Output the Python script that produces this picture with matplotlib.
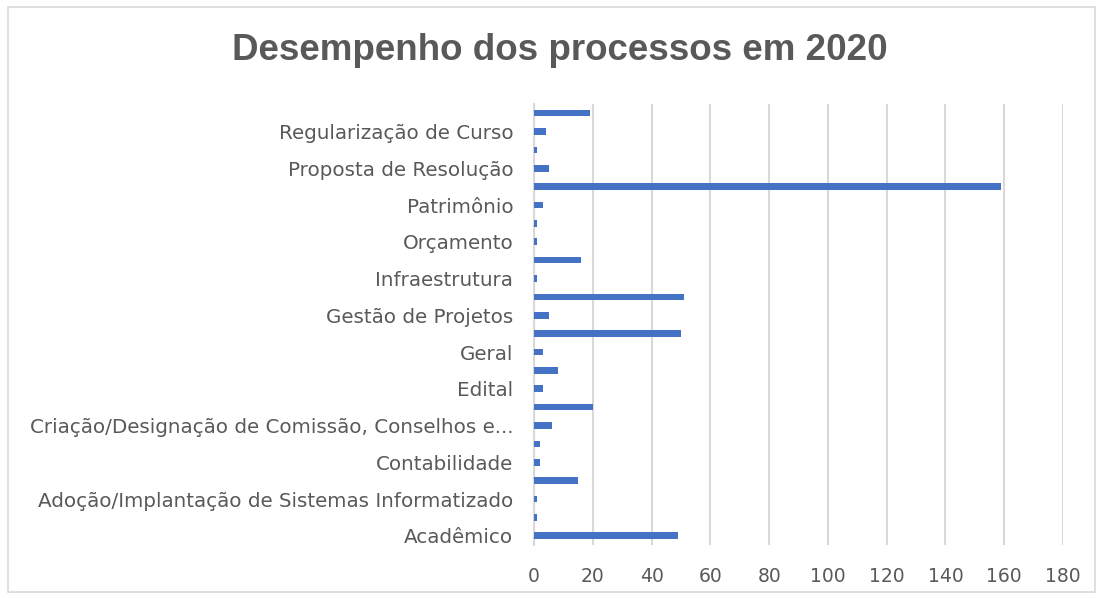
import matplotlib.pyplot as plt
import numpy as np

# Values read bottom-to-top (Excel plots the first category at the bottom)
valores = [49, 1, 1, 15, 2, 2, 6, 20, 3, 8, 3, 50,
           5, 51, 1, 16, 1, 1, 3, 159, 5, 1, 4, 19]

# Only every other category label is shown in the original chart
rotulos = [
    "Acadêmico",
    "Adoção/Implantação de Sistemas Informatizado",
    "Contabilidade",
    "Criação/Designação de Comissão, Conselhos e...",
    "Edital",
    "Geral",
    "Gestão de Projetos",
    "Infraestrutura",
    "Orçamento",
    "Patrimônio",
    "Proposta de Resolução",
    "Regularização de Curso",
]
posicoes_rotulos = list(range(0, len(valores), 2))

x_ticks = list(range(0, 181, 20))

TEXT_GRAY = "#595959"
GRID_GRAY = "#D9D9D9"
BAR_BLUE = "#4472C4"

plt.rcParams["font.family"] = ["DejaVu Sans"]

fig = plt.figure(figsize=(11.04, 5.99), dpi=100)
fig.patch.set_facecolor("white")

# light frame around the chart area, as in the Excel export
frame = plt.Rectangle((0.007, 0.012), 0.985, 0.976, transform=fig.transFigure,
                      fill=False, edgecolor="#D9D9D9", linewidth=1.2)
fig.add_artist(frame)

ax = fig.add_axes([0.4837, 0.0902, 0.4792, 0.7362])

y = np.arange(len(valores))
ax.barh(y, valores, height=0.36, color=BAR_BLUE, zorder=3)

ax.set_xlim(0, 180)
ax.set_ylim(-0.5, len(valores) - 0.5)
ax.set_xticks(x_ticks)
ax.set_xticklabels([str(t) for t in x_ticks])
ax.set_yticks(posicoes_rotulos)
ax.set_yticklabels(rotulos)

ax.grid(axis="x", color=GRID_GRAY, linewidth=1.5, zorder=0)
for side in ["top", "right", "bottom"]:
    ax.spines[side].set_visible(False)
ax.spines["left"].set_color(GRID_GRAY)
ax.spines["left"].set_linewidth(1.5)

ax.tick_params(axis="both", length=0, colors=TEXT_GRAY)
ax.tick_params(axis="x", pad=16, labelsize=13.5)
ax.tick_params(axis="y", pad=15, labelsize=14.3)

fig.text(0.507, 0.915, "Desempenho dos processos em 2020", ha="center", va="center",
         fontsize=26.5, fontweight="bold", color=TEXT_GRAY,
         family="Liberation Sans")

fig.savefig("out.png", dpi=100)
